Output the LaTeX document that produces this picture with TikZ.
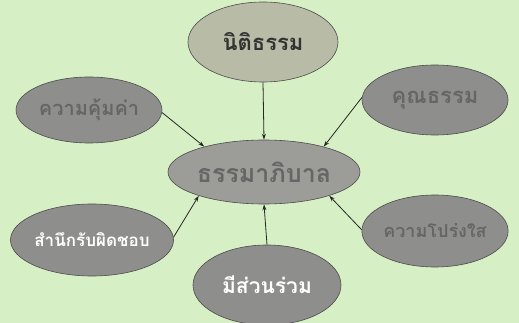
\documentclass[tikz,border=0pt]{standalone}
\usepackage{fontspec}
\newfontfamily\thaifont[Script=Thai]{Loma}
\usetikzlibrary{shapes.geometric,arrows.meta}
\definecolor{bg}{HTML}{D6EFC4}
\definecolor{ovgrey}{HTML}{8E8E8C}
\definecolor{ovlight}{HTML}{B8BBA6}
\definecolor{ovmid}{HTML}{9C9C98}
\definecolor{dimtext}{HTML}{666666}
\newcommand{\tsz}[1]{\thaifont\bfseries\fontsize{#1}{#1}\selectfont}
\tikzset{
  oval/.style={ellipse, draw=black!70, line width=0.6pt, fill=ovgrey, inner sep=0pt},
  link/.style={-{Stealth[length=6pt,width=4pt]}, line width=0.8pt, draw=black!85},
}
\begin{document}
\begin{tikzpicture}[x=1pt,y=-1pt]
\fill[bg] (0,0) rectangle (519,323);
\useasboundingbox (0,0) rectangle (519,323);
\node[oval, fill=ovlight, text=black!80, minimum width=150pt, minimum height=80pt, font=\tsz{22}] (top) at (263,42) {นิติธรรม};
\node[oval, text=dimtext, minimum width=146pt, minimum height=66pt, font=\tsz{20}] (tl) at (89,110) {ความคุ้มค่า};
\node[oval, text=dimtext, minimum width=146pt, minimum height=70pt, font=\tsz{22}] (tr) at (435,100) {คุณธรรม};
\node[oval, fill=ovmid, text=dimtext, minimum width=192pt, minimum height=64pt, font=\tsz{25}] (c) at (264,172) {ธรรมาภิบาล};
\node[oval, text=white, minimum width=146pt, minimum height=72pt, font=\tsz{17}] (bl) at (92,240) {สำนึกรับผิดชอบ};
\node[oval, text=dimtext, minimum width=138pt, minimum height=72pt, font=\tsz{18}] (br) at (435,231) {ความโปร่งใส};
\node[oval, text=white, minimum width=148pt, minimum height=80pt, font=\tsz{21}] (bot) at (267,285) {มีส่วนร่วม};
\draw[link] (top.south) -- (c.north);
\draw[link] (tl.-2) -- (c.157);
\draw[link] (tr.178) -- (c.23);
\draw[link] (bl.2) -- (c.-160);
\draw[link] (bot.north) -- (c.south);
\draw[link] (br.179) -- (c.-20);
\end{tikzpicture}
\end{document}
